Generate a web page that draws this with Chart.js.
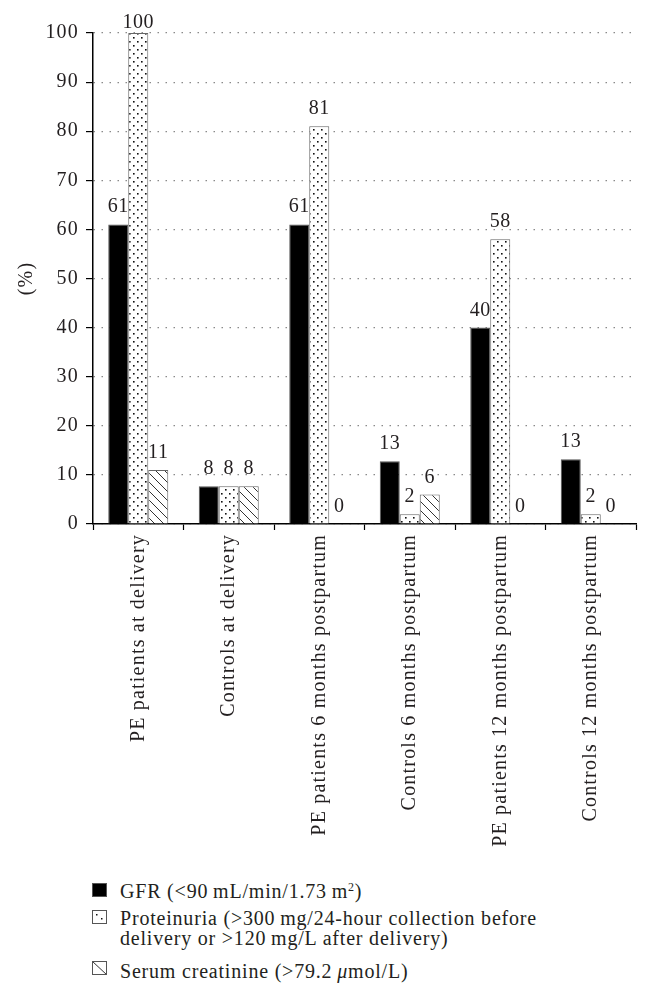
<!DOCTYPE html>
<html>
<head>
<meta charset="utf-8">
<script src="https://cdn.jsdelivr.net/npm/chart.js@4/dist/chart.umd.min.js"></script>
<style>
  html, body { margin: 0; padding: 0; background: #fff; }
  #wrap { position: relative; width: 651px; height: 999px; }
  #chartBox { position: absolute; left: 0; top: 0; width: 651px; height: 850px; }
  .leg { position: absolute; left: 120px; font-family: "Liberation Serif", "DejaVu Serif", serif; font-size: 20px; letter-spacing: 0.8px; line-height: 20px; color: #231f20; white-space: nowrap; }
  .sw { position: absolute; left: 92px; width: 15px; height: 14px; }
  sup { font-size: 12px; line-height: 0; vertical-align: 7px; }
</style>
</head>
<body>
<div id="wrap">
  <div id="chartBox"><canvas id="c" width="651" height="850"></canvas></div>
  <canvas class="sw" id="sw0" width="15" height="14" style="top:883px"></canvas>
  <div class="leg" style="top:881px">GFR (&lt;90&#8201;mL/min/1.73&#8201;m<sup>2</sup>)</div>
  <canvas class="sw" id="sw1" width="15" height="14" style="top:910px"></canvas>
  <div class="leg" style="top:908px">Proteinuria (&gt;300&#8201;mg/24-hour collection before<br>delivery or &gt;120&#8201;mg/L after delivery)</div>
  <canvas class="sw" id="sw2" width="15" height="14" style="top:961px"></canvas>
  <div class="leg" style="top:961px">Serum creatinine (&gt;79.2&#8201;<i>μ</i>mol/L)</div>
</div>
<script>
const categories = [
  "PE patients at delivery",
  "Controls at delivery",
  "PE patients 6 months postpartum",
  "Controls 6 months postpartum",
  "PE patients 12 months postpartum",
  "Controls 12 months postpartum"
];
const seriesNames = ["GFR", "Proteinuria", "Serum creatinine"];
const gfr = [61, 7.7, 61, 12.8, 40, 13.2];
const proteinuria = [100, 7.7, 81, 2, 58, 2];
const creatinine = [11, 7.7, 0, 6, 0, 0];
const gfrLabels = [61, 8, 61, 13, 40, 13];
const proteinuriaLabels = [100, 8, 81, 2, 58, 2];
const creatinineLabels = [11, 8, 0, 6, 0, 0];
const yTicks = [0, 10, 20, 30, 40, 50, 60, 70, 80, 90, 100];

const FONT = '"Liberation Serif", "DejaVu Serif", serif';
const TXT = '#231f20';

function makeDots() {
  const t = document.createElement('canvas');
  t.width = 8; t.height = 8;
  const g = t.getContext('2d');
  g.fillStyle = '#fff'; g.fillRect(0, 0, 8, 8);
  g.fillStyle = '#111';
  g.fillRect(1, 1, 1.6, 1.6);
  g.fillRect(5, 5, 1.6, 1.6);
  return t;
}
function makeHatch() {
  const t = document.createElement('canvas');
  t.width = 9; t.height = 9;
  const g = t.getContext('2d');
  g.fillStyle = '#fff'; g.fillRect(0, 0, 9, 9);
  g.strokeStyle = '#333'; g.lineWidth = 1;
  g.beginPath();
  g.moveTo(-1, -1); g.lineTo(10, 10);
  g.moveTo(-1, 8); g.lineTo(1, 10);
  g.moveTo(8, -1); g.lineTo(10, 1);
  g.stroke();
  return t;
}
const ctx = document.getElementById('c').getContext('2d');
const dotPat = ctx.createPattern(makeDots(), 'repeat');
const hatchPat = ctx.createPattern(makeHatch(), 'repeat');

function swatch(id, fill) {
  const s = document.getElementById(id).getContext('2d');
  s.fillStyle = fill; s.fillRect(0, 0, 15, 14);
  s.strokeStyle = '#555'; s.lineWidth = 1; s.strokeRect(0.5, 0.5, 14, 13);
}
swatch('sw0', '#000');
(function(){
  const s = document.getElementById('sw1').getContext('2d');
  s.fillStyle = '#fff'; s.fillRect(0, 0, 15, 14);
  s.fillStyle = '#111'; s.fillRect(4, 4, 1.5, 1.5); s.fillRect(9, 8, 1.5, 1.5);
  s.strokeStyle = '#555'; s.strokeRect(0.5, 0.5, 14, 13);
})();
(function(){
  const s = document.getElementById('sw2').getContext('2d');
  s.fillStyle = '#fff'; s.fillRect(0, 0, 15, 14);
  s.strokeStyle = '#333'; s.beginPath(); s.moveTo(0, 0); s.lineTo(15, 14); s.stroke();
  s.strokeStyle = '#555'; s.strokeRect(0.5, 0.5, 14, 13);
})();

const labelSets = [gfrLabels, proteinuriaLabels, creatinineLabels];

const spacing = {
  id: 'spacing',
  beforeLayout(chart) { chart.ctx.letterSpacing = '1.2px'; },
  beforeDraw(chart) { chart.ctx.letterSpacing = '1.2px'; }
};

const valueLabels = {
  id: 'valueLabels',
  afterDatasetsDraw(chart) {
    const c = chart.ctx;
    c.save();
    c.letterSpacing = '0.5px';
    c.font = '20px ' + FONT;
    c.fillStyle = TXT;
    c.textAlign = 'center';
    c.textBaseline = 'alphabetic';
    chart.data.datasets.forEach((ds, di) => {
      const meta = chart.getDatasetMeta(di);
      meta.data.forEach((el, i) => {
        let y = el.y - 12;
        if (y < 30) y = 28;
        c.fillText(String(labelSets[di][i]), el.x, y);
      });
    });
    c.restore();
  }
};

new Chart(ctx, {
  type: 'bar',
  data: {
    labels: categories,
    datasets: [
      { label: seriesNames[0], data: gfr, backgroundColor: '#000', borderColor: '#555', borderWidth: 1 },
      { label: seriesNames[1], data: proteinuria, backgroundColor: dotPat, borderColor: '#666', borderWidth: 1 },
      { label: seriesNames[2], data: creatinine, backgroundColor: hatchPat, borderColor: '#666', borderWidth: 1 }
    ]
  },
  options: {
    responsive: false,
    animation: false,
    events: [],
    layout: { padding: { top: 33, right: 15, left: 15, bottom: 0 } },
    datasets: { bar: { categoryPercentage: 0.663, barPercentage: 1.0 } },
    plugins: {
      legend: { display: false },
      tooltip: { enabled: false }
    },
    scales: {
      x: {
        offset: true,
        afterFit(scale) { scale.height = 850 - 524; },
        border: { display: true, color: '#000', width: 1.5 },
        grid: { offset: true, drawOnChartArea: false, drawTicks: true, tickLength: 6, tickColor: '#000', tickWidth: 1.2 },
        ticks: { autoSkip: false, minRotation: 90, maxRotation: 90, padding: 4, color: TXT, font: { family: FONT, size: 20 } }
      },
      y: {
        min: 0, max: 100,
        afterFit(scale) { scale.width = 78; },
        afterBuildTicks(scale) { scale.ticks = yTicks.map(v => ({ value: v })); },
        border: { display: true, color: '#000', width: 1.5, dash: [1.5, 6.5] },
        grid: { color: '#8a8a8a', lineWidth: 1.2, tickColor: '#000', tickBorderDash: [], tickLength: 7, tickWidth: 1.2 },
        ticks: { color: TXT, padding: 7, font: { family: FONT, size: 20 } },
        title: { display: true, text: '(%)', color: TXT, padding: { top: 0, bottom: 0 }, font: { family: FONT, size: 20 } }
      }
    }
  },
  plugins: [spacing, valueLabels]
});
</script>
</body>
</html>
